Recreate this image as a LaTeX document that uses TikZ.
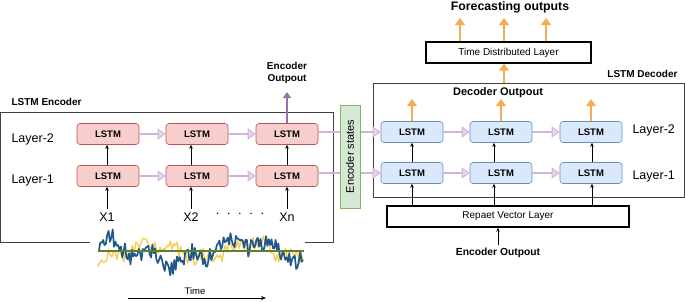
\documentclass[tikz,border=0pt]{standalone}
\usepackage{fontspec}
\setmainfont{Liberation Sans}
\usetikzlibrary{arrows.meta,positioning}
\definecolor{encfill}{HTML}{F8CECC}
\definecolor{encline}{HTML}{B85450}
\definecolor{decfill}{HTML}{DAE8FC}
\definecolor{decline}{HTML}{6C8EBF}
\definecolor{statefill}{HTML}{D5E8D4}
\definecolor{stateline}{HTML}{82B366}
\definecolor{purline}{RGB}{208,178,220}
\definecolor{purfill}{RGB}{228,212,236}
\definecolor{purdark}{RGB}{150,110,172}
\definecolor{orangeup}{RGB}{246,172,82}
\definecolor{seriesblue}{RGB}{32,88,140}
\definecolor{seriesyellow}{RGB}{248,206,80}
\definecolor{seriesgreen}{RGB}{92,128,48}
\tikzset{
  lstmenc/.style={draw=encline, fill=encfill, rounded corners=3pt, line width=0.6pt,
    minimum width=62pt, minimum height=21pt, font=\bfseries\fontsize{9.5}{11}\selectfont},
  lstmdec/.style={draw=decline, fill=decfill, rounded corners=3pt, line width=0.6pt,
    minimum width=62pt, minimum height=21pt, font=\bfseries\fontsize{9.5}{11}\selectfont},
  layerlab/.style={font=\fontsize{12.5}{14}\selectfont, anchor=west},
  titlelab/.style={font=\bfseries\fontsize{10}{12}\selectfont},
  layerbox/.style={draw, line width=1.4pt, minimum height=21pt, inner sep=0pt,
    font=\fontsize{10}{12}\selectfont},
  statearr/.style={draw=purline, line width=2.6pt,
    -{Triangle[length=8pt, width=11pt, fill=purfill, line width=0.8pt]}},
  upthin/.style={line width=0.6pt, -{Stealth[length=4pt, width=3.5pt]}},
  uporange/.style={draw=orangeup, line width=2.8pt, -{Triangle[length=7pt, width=10pt]}},
}
\begin{document}
\begin{tikzpicture}[x=1pt, y=-1pt]
  \useasboundingbox (0,0) rectangle (685,301);

  % Encoder
  \draw[line width=0.8pt, black!75] (90,242) -- (0,242) -- (0,112) -- (333,112) -- (333,242) -- (305,242);
  \node[titlelab, anchor=west] (enctitle) at (8,102) {LSTM Encoder};
  \node[layerlab] (encl2) at (8,139) {Layer-2};
  \node[layerlab] (encl1) at (8,180) {Layer-1};
  \node[lstmenc] (e21) at (108,134) {LSTM};
  \node[lstmenc] (e22) at (197,134) {LSTM};
  \node[lstmenc] (e23) at (287,134) {LSTM};
  \node[lstmenc] (e11) at (108,176) {LSTM};
  \node[lstmenc] (e12) at (197,176) {LSTM};
  \node[lstmenc] (e13) at (287,176) {LSTM};
  \node[font=\fontsize{12.5}{14}\selectfont] (x1) at (107,217) {X1};
  \node[font=\fontsize{12.5}{14}\selectfont] (x2) at (191,217) {X2};
  \node[font=\fontsize{12.5}{14}\selectfont] (xn) at (287,217) {Xn};
  \node[font=\fontsize{15}{16}\selectfont] (dots) at (240,214) {$\cdot\;\cdot\;\cdot\;\cdot\;\cdot$};
  \foreach \a/\b in {e21/e22, e22/e23, e11/e12, e12/e13}
    \draw[statearr] (\a.east) -- (\b.west);
  \foreach \x/\lo/\hi in {x1/e11/e21, x2/e12/e22, xn/e13/e23} {
    \draw[upthin] (\x.north) -- (\x.north |- \lo.south);
    \draw[upthin] (\x.north |- \lo.north) -- (\x.north |- \hi.south);
  }
  \node[titlelab, align=center, font=\bfseries\fontsize{10}{12.5}\selectfont] (encout) at (287,73) {Encoder\\Outpout};
  \coordinate (encouttip) at (287,92);
  \draw[draw=purdark, line width=2pt, -{Triangle[length=6pt, width=8pt]}] (e23.north) -- (encouttip);

  % Serie temporale
  \pgfmathsetseed{4242}
  \draw[seriesyellow, line width=1.4pt, line join=round] plot[domain=98:303, samples=120]
    (\x, {251 + 8*sin(3.7*\x+60) + 4*sin(12*\x) + 7*rand});
  \draw[seriesblue, line width=1.7pt, line join=round] plot[domain=99:303, samples=150]
    (\x, {252 + 10*sin(2.5*\x+20) + 6*sin(9*\x) + 9*rand});
  \draw[seriesgreen, line width=1.3pt] (98,251) -- (304,251);
  \node[font=\fontsize{9.5}{11}\selectfont] (timelab) at (195,291) {Time};
  \coordinate (t0) at (128,298);
  \coordinate (t1) at (266,298);
  \draw[line width=0.7pt, -{Stealth[length=5pt, width=4pt]}] (t0) -- (t1);

  % Decoder
  \node[draw, line width=0.8pt, black!75, minimum width=311pt, minimum height=114pt, inner sep=0pt] (decframe) at (528.5,140) {};
  \node[titlelab, anchor=east] (dectitle) at (681,74) {LSTM Decoder};
  \node[layerlab] (decl2) at (629,130) {Layer-2};
  \node[layerlab] (decl1) at (629,176) {Layer-1};
  \node[lstmdec] (d21) at (412,132) {LSTM};
  \node[lstmdec] (d22) at (501,132) {LSTM};
  \node[lstmdec] (d23) at (591,132) {LSTM};
  \node[lstmdec] (d11) at (412,173) {LSTM};
  \node[lstmdec] (d12) at (501,173) {LSTM};
  \node[lstmdec] (d13) at (591,173) {LSTM};
  \foreach \a/\b in {d21/d22, d22/d23, d11/d12, d12/d13}
    \draw[statearr] (\a.east) -- (\b.west);
  \draw[statearr] (e23.east |- d21.west) -- (d21.west);
  \draw[statearr] (e13.east |- d11.west) -- (d11.west);
  \node[draw=stateline, fill=statefill, line width=0.7pt, rotate=90, minimum width=103pt,
    minimum height=20pt, inner sep=0pt, font=\fontsize{11}{13}\selectfont] (encstates) at (350,156.5) {Encoder states};
  \node[titlelab, font=\bfseries\fontsize{11}{13}\selectfont] (decout) at (498,93) {Decoder Outpout};
  \coordinate (o1) at (412,99);
  \coordinate (o2) at (501,99);
  \coordinate (o3) at (591,99);
  \draw[uporange] (d21.north) -- (o1);
  \draw[uporange] (d22.north) -- (o2);
  \draw[uporange] (d23.north) -- (o3);

  % Repeat vector
  \node[layerbox, minimum width=242pt] (rvl) at (508,216.5) {Repaet Vector Layer};
  \node[titlelab, font=\bfseries\fontsize{10.3}{12}\selectfont] (encout2) at (498,253) {Encoder Outpout};
  \draw[upthin] (encout2.north) -- (encout2.north |- rvl.south);
  \coordinate (c1) at (412,0);
  \coordinate (c2) at (494,0);
  \coordinate (c3) at (592,0);
  \foreach \c/\lo/\hi in {c1/d11/d21, c2/d12/d22, c3/d13/d23} {
    \draw[upthin] (\c |- rvl.north) -- (\c |- \lo.south);
    \draw[upthin] (\c |- \lo.north) -- (\c |- \hi.south);
  }

  % Time distributed
  \node[layerbox, minimum width=165pt] (tdl) at (508.5,52.5) {Time Distributed Layer};
  \coordinate (c0) at (504,0);
  \draw[uporange] (c0 |- decframe.north) -- (c0 |- tdl.south);
  \coordinate (f1) at (460,18);
  \coordinate (f2) at (504,18);
  \coordinate (f3) at (546,18);
  \foreach \f in {f1, f2, f3}
    \draw[uporange] (\f |- tdl.north) -- (\f);
  \node[font=\bfseries\fontsize{12.3}{14}\selectfont] (forecast) at (510,7) {Forecasting outputs};
\end{tikzpicture}
\end{document}
